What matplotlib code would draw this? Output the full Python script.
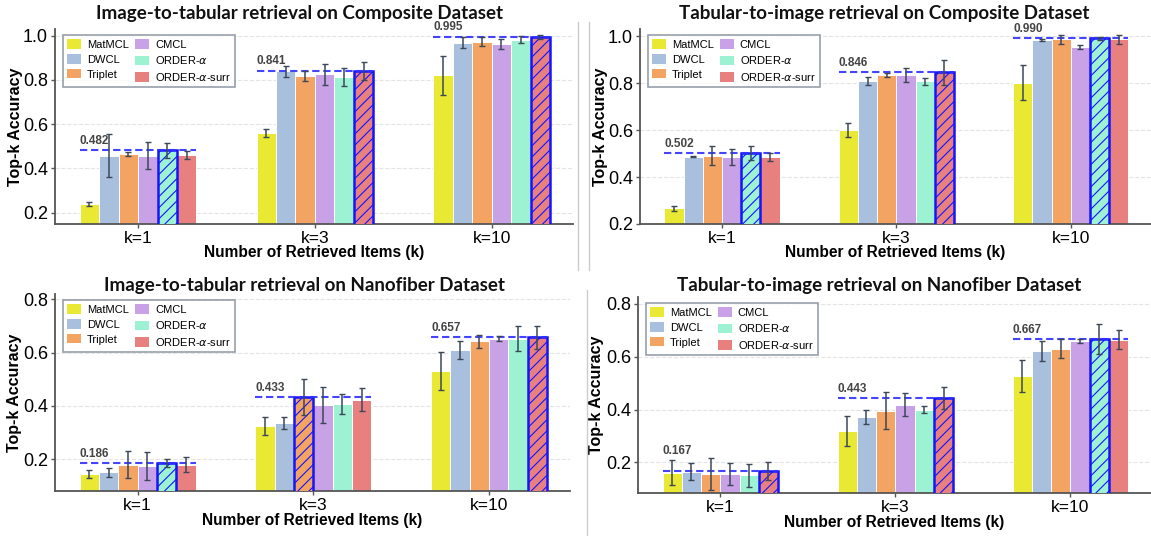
import numpy as np
import matplotlib
matplotlib.use("Agg")
import matplotlib.pyplot as plt
from matplotlib.patches import Patch
from matplotlib.lines import Line2D

plt.rcParams['font.family'] = ['Liberation Sans', 'DejaVu Sans']
plt.rcParams['mathtext.fontset'] = 'dejavusans'
plt.rcParams['hatch.linewidth'] = 0.8

methods = ["MatMCL", "DWCL", "Triplet", "CMCL", r"ORDER-$\alpha$", r"ORDER-$\alpha$-surr"]
colors = ["#E9E833", "#A8BFDE", "#F4A462", "#C9A1E6", "#9EF2D4", "#E88080"]
ks = ["k=1", "k=3", "k=10"]

# Image-to-tabular, Composite
i2t_comp = [[0.240, 0.458, 0.465, 0.458, 0.482, 0.460],
            [0.559, 0.838, 0.819, 0.825, 0.814, 0.841],
            [0.820, 0.967, 0.973, 0.962, 0.982, 0.995]]
i2t_comp_err = [[0.010, 0.098, 0.010, 0.062, 0.033, 0.018],
                [0.018, 0.025, 0.023, 0.046, 0.041, 0.041],
                [0.089, 0.025, 0.019, 0.024, 0.015, 0.009]]

# Tabular-to-image, Composite
t2i_comp = [[0.266, 0.486, 0.490, 0.486, 0.502, 0.486],
            [0.600, 0.809, 0.834, 0.834, 0.807, 0.846],
            [0.802, 0.983, 0.986, 0.955, 0.990, 0.986]]
t2i_comp_err = [[0.011, 0.002, 0.040, 0.035, 0.030, 0.016],
                [0.028, 0.018, 0.009, 0.028, 0.016, 0.054],
                [0.076, 0.003, 0.018, 0.009, 0.008, 0.018]]

# Image-to-tabular, Nanofiber
i2t_nano = [[0.144, 0.151, 0.180, 0.175, 0.186, 0.180],
            [0.325, 0.337, 0.433, 0.404, 0.408, 0.423],
            [0.532, 0.611, 0.643, 0.653, 0.653, 0.657]]
i2t_nano_err = [[0.014, 0.017, 0.050, 0.054, 0.015, 0.029],
                [0.033, 0.023, 0.067, 0.067, 0.037, 0.043],
                [0.072, 0.033, 0.025, 0.008, 0.046, 0.043]]

# Tabular-to-image, Nanofiber
t2i_nano = [[0.161, 0.165, 0.156, 0.156, 0.151, 0.167],
            [0.319, 0.371, 0.395, 0.419, 0.400, 0.443],
            [0.528, 0.621, 0.630, 0.659, 0.667, 0.664]]
t2i_nano_err = [[0.048, 0.033, 0.059, 0.042, 0.044, 0.033],
                [0.058, 0.026, 0.070, 0.042, 0.013, 0.042],
                [0.060, 0.037, 0.036, 0.008, 0.058, 0.036]]

titles = ["Image-to-tabular retrieval on Composite Dataset",
          "Tabular-to-image retrieval on Composite Dataset",
          "Image-to-tabular retrieval on Nanofiber Dataset",
          "Tabular-to-image retrieval on Nanofiber Dataset"]

W, H = 1151, 536
fig = plt.figure(figsize=(W / 100, H / 100), dpi=100)


def px_axes(l, r, t, b):
    return fig.add_axes([l / W, 1 - b / H, (r - l) / W, (b - t) / H])


# (left, right, top, bottom) in pixels, ylim, yticks, title pos, ylabel x, xlabel y
panels = [
    (i2t_comp, i2t_comp_err, (55, 573, 29, 224), (0.149, 1.03), [0.2, 0.4, 0.6, 0.8, 1.0], (300, 13), 16, 253),
    (t2i_comp, t2i_comp_err, (640, 1151, 29, 224), (0.2, 1.03), [0.2, 0.4, 0.6, 0.8, 1.0], (884, 13), 600, 253),
    (i2t_nano, i2t_nano_err, (55, 570, 294, 491), (0.081, 0.82), [0.2, 0.4, 0.6, 0.8], (304, 285), 15, 520),
    (t2i_nano, t2i_nano_err, (638, 1151, 297, 493), (0.084, 0.826), [0.2, 0.4, 0.6, 0.8], (879, 285), 597, 522),
]

w = 0.11
x = np.arange(len(ks))

for p, (vals, errs, box, ylim, yt, tpos, ylx, xly) in enumerate(panels):
    l, r, t, b = box
    ax = px_axes(l, r, t, b)
    vals = np.array(vals)
    errs = np.array(errs)
    for g in range(len(ks)):
        best = int(np.argmax(vals[g]))
        for i in range(len(methods)):
            xi = x[g] + (i - 2.5) * w
            if i == best:
                ax.bar(xi, vals[g, i], w, color=colors[i], edgecolor="#1414ff",
                       linewidth=1.8, hatch="///", zorder=3)
            else:
                ax.bar(xi, vals[g, i], w, color=colors[i], edgecolor="white",
                       linewidth=0.7, zorder=2)
            ax.errorbar(xi, vals[g, i], yerr=errs[g, i], fmt="none", ecolor="#3c4858",
                        elinewidth=1.1, capsize=2.3, capthick=1.0, zorder=5)
        x0 = x[g] - 3 * w
        x1 = x[g] + 3 * w
        ax.plot([x0, x1], [vals[g, best]] * 2, ls="--", dashes=(3.5, 1.8),
                color="#3030ff", lw=1.5, alpha=0.9, zorder=4)
        # keep the label clear of the first bar's error bar
        ty = max(vals[g, best], vals[g, 0] + errs[g, 0])
        ax.annotate(f"{vals[g, best]:.3f}", (x0, ty), xytext=(0, 2.5),
                    textcoords="offset points", ha="left", va="bottom",
                    fontsize=8.5, fontweight="bold", color="#444444", zorder=6)

    ax.set_xlim(-0.47, 2.46)
    ax.set_ylim(*ylim)
    ax.set_yticks(yt)
    ax.set_xticks(x)
    ax.set_xticklabels(ks)
    ax.tick_params(axis="y", labelsize=13, length=3, width=1, color="#555555", pad=2)
    ax.tick_params(axis="x", labelsize=12.5, length=3, width=1, color="#555555", pad=2)
    ax.yaxis.grid(True, ls="--", color="#e4e4e4", lw=0.8)
    ax.set_axisbelow(True)
    for s in ["top", "right"]:
        ax.spines[s].set_visible(False)
    for s in ["left", "bottom"]:
        ax.spines[s].set_color("#555555")
        ax.spines[s].set_linewidth(1.3)

    hgt = b - t
    wid = r - l
    ax.set_ylabel("Top-k Accuracy", fontsize=11.5, fontweight="bold")
    ax.yaxis.set_label_coords((ylx - l) / wid, 0.5)
    ax.yaxis.label.set_va("center")
    ax.set_xlabel("Number of Retrieved Items (k)", fontsize=11.2, fontweight="bold")
    ax.xaxis.set_label_coords(0.5, -(xly - b) / hgt)
    ax.xaxis.label.set_va("center")

    fig.text(tpos[0] / W, 1 - tpos[1] / H, titles[p], fontsize=13.5, fontweight="bold",
             family="Lato", ha="center", va="center", color="#111111")

    handles = [Patch(facecolor=c, edgecolor="none") for c in colors]
    leg = ax.legend(handles, methods, ncol=2, loc="upper left",
                    bbox_to_anchor=(8 / wid, 1 - 6 / hgt), borderaxespad=0,
                    fontsize=8, frameon=True, fancybox=False, edgecolor="#7d8896",
                    handlelength=1.25, handleheight=0.9, handletextpad=0.5,
                    columnspacing=0.6, labelspacing=0.4, borderpad=0.4)
    leg.get_frame().set_linewidth(1.2)
    leg.set_zorder(10)

# separator lines between the panels
for xs, y0, y1 in [(578, 22, 270), (589, 22, 270), (587, 290, 536)]:
    fig.add_artist(Line2D([xs / W, xs / W], [1 - y0 / H, 1 - y1 / H],
                          transform=fig.transFigure, color="#cccccc", lw=1))

fig.savefig("out.png", dpi=100)
